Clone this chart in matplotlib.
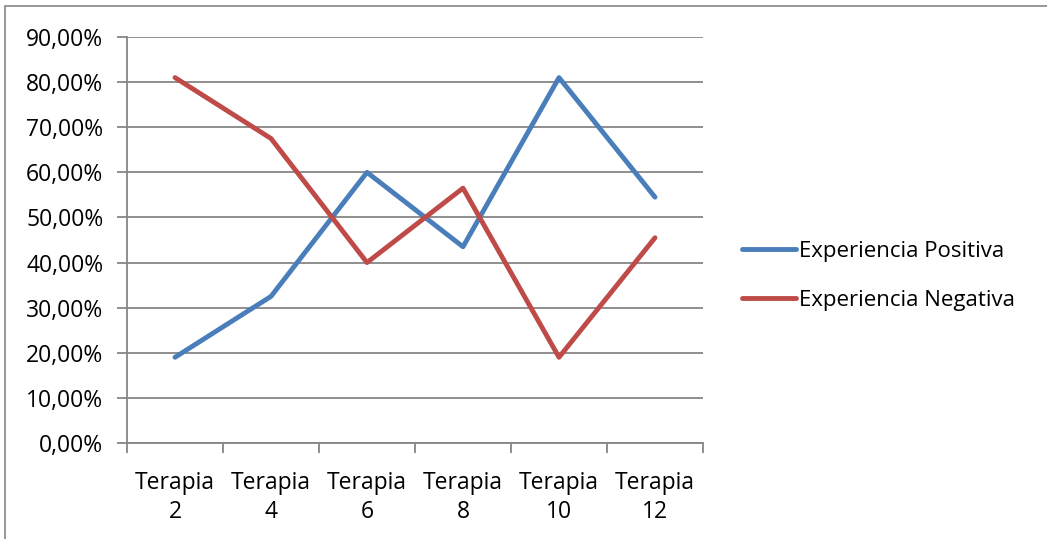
import matplotlib.pyplot as plt
from matplotlib.patches import Rectangle
from matplotlib.ticker import FuncFormatter

plt.rcParams['font.family'] = ['Open Sans', 'DejaVu Sans']

# datos
terapias = ['Terapia\n2', 'Terapia\n4', 'Terapia\n6', 'Terapia\n8', 'Terapia\n10', 'Terapia\n12']
positiva = [19.0, 32.5, 60.0, 43.5, 81.0, 54.5]
negativa = [81.0, 67.5, 40.0, 56.5, 19.0, 45.5]

gris = '#868686'
fs = 16.5

fig = plt.figure(figsize=(10.47, 5.39), dpi=100)
# marco del gráfico
fig.patches.append(Rectangle((5 / 1047, -0.1), 1.2, 1.1 - 6 / 539, transform=fig.transFigure,
                             fill=False, edgecolor=gris, linewidth=1.2))

ax = fig.add_axes([127 / 1047, 1 - 443 / 539, 576 / 1047, 406 / 539])

x = list(range(len(terapias)))
ax.plot(x, positiva, color='#4A7EBB', linewidth=3.5, solid_capstyle='round', label='Experiencia Positiva')
ax.plot(x, negativa, color='#BE4B48', linewidth=3.5, solid_capstyle='round', label='Experiencia Negativa')

ax.set_xlim(-0.5, len(terapias) - 0.5)
ax.set_ylim(0, 90)
ax.set_yticks(range(0, 91, 10))
ax.yaxis.set_major_formatter(FuncFormatter(lambda v, p: f'{v:.2f}%'.replace('.', ',')))
ax.yaxis.grid(True, color=gris, linewidth=1.3)
ax.set_axisbelow(True)

# marcas entre categorías
ax.set_xticks([i - 0.5 for i in range(len(terapias) + 1)])
ax.set_xticklabels([])
ax.set_xticks(x, minor=True)
ax.set_xticklabels(terapias, minor=True, fontsize=fs, linespacing=1.3)
ax.tick_params(axis='x', which='minor', length=0, pad=20)
ax.tick_params(axis='x', which='major', length=7, color=gris, width=1.3)
ax.tick_params(axis='y', length=7, color=gris, width=1.3, labelsize=fs, pad=10)

for s in ['top', 'right']:
    ax.spines[s].set_visible(False)
for s in ['left', 'bottom']:
    ax.spines[s].set_color(gris)
    ax.spines[s].set_linewidth(1.3)

fig.legend(loc='center left', bbox_to_anchor=(742 / 1047, 1 - 276 / 539), frameon=False,
           borderpad=0, borderaxespad=0, fontsize=16, handlelength=2.45,
           handletextpad=0.12, labelspacing=1.25)

fig.savefig('out.png', dpi=100)
